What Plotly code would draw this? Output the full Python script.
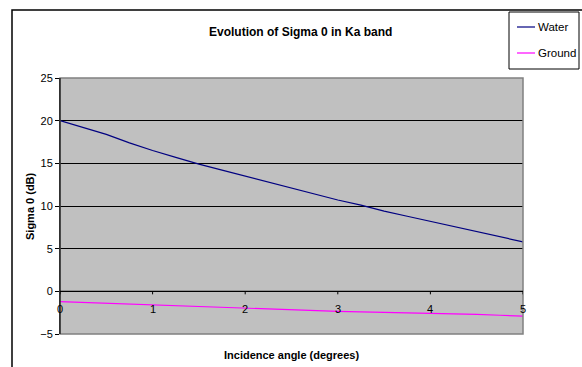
import plotly.graph_objects as go

angle = [0, 0.25, 0.5, 0.75, 1, 1.25, 1.5, 1.75, 2, 2.25, 2.5, 2.75, 3, 3.25, 3.5, 3.75, 4, 4.25, 4.5, 4.75, 5]
water = [20.0, 19.2, 18.4, 17.4, 16.5, 15.7, 14.9, 14.2, 13.5, 12.8, 12.1, 11.4, 10.7, 10.1, 9.4, 8.8, 8.2, 7.6, 7.0, 6.4, 5.8]
ground = [-1.2, -1.3, -1.4, -1.5, -1.6, -1.7, -1.8, -1.9, -2.0, -2.1, -2.15, -2.25, -2.35, -2.4, -2.45, -2.5, -2.6, -2.65, -2.7, -2.8, -2.9]
series_names = ["Water", "Ground"]
series_colors = ["#000080", "#FF00FF"]
x_ticks = [0, 1, 2, 3, 4, 5]
y_ticks = [-5, 0, 5, 10, 15, 20, 25]

W, H = 582, 367
L, R, T, B = 60, 59, 78, 33
pw, ph = W - L - R, H - T - B

def px(x):
    return (x - L) / pw

def py(y):
    return (H - B - y) / ph

FONT = "Liberation Sans, Arial, sans-serif"

fig = go.Figure()
for ys, name, col in zip([water, ground], series_names, series_colors):
    fig.add_trace(go.Scatter(x=angle, y=ys, mode="lines", name=name,
                             line=dict(color=col, width=1.2)))

shapes = [
    dict(type="rect", xref="paper", yref="paper", x0=0, x1=1, y0=0, y1=1,
         line=dict(color="#808080", width=1.5), layer="above"),
    dict(type="line", xref="paper", yref="paper", x0=0, x1=0, y0=0, y1=1,
         line=dict(color="black", width=1), layer="above"),
    # horizontal category axis line at y = 0
    dict(type="line", xref="paper", yref="y", x0=0, x1=1, y0=0, y1=0,
         line=dict(color="black", width=1.2), layer="above"),
    dict(type="rect", xref="paper", yref="paper", x0=px(12), x1=px(600),
         y0=py(380), y1=py(10), line=dict(color="black", width=1.5), layer="below"),
    # legend box
    dict(type="rect", xref="paper", yref="paper", x0=px(509), x1=px(579),
         y0=py(69), y1=py(12), line=dict(color="black", width=1),
         fillcolor="white", layer="above"),
]
annotations = [
    dict(text="<b>Evolution of Sigma 0 in Ka band</b>", xref="paper", yref="paper",
         x=px(300), y=py(32), xanchor="center", yanchor="middle",
         showarrow=False, font=dict(size=12, family=FONT)),
    dict(text="<b>Sigma 0 (dB)</b>", xref="paper", yref="paper",
         x=px(30), y=py(206), xanchor="center", yanchor="middle", textangle=-90,
         showarrow=False, font=dict(size=11, family=FONT)),
    dict(text="<b>Incidence angle (degrees)</b>", xref="paper", yref="paper",
         x=px(291), y=py(355), xanchor="center", yanchor="middle",
         showarrow=False, font=dict(size=11, family=FONT)),
]
# x tick marks and labels along the y = 0 line
for t in x_ticks:
    shapes.append(dict(type="line", xref="x", yref="y", ysizemode="pixel", yanchor=0,
                       x0=t, x1=t, y0=0, y1=-3, line=dict(color="black", width=1),
                       layer="above"))
    annotations.append(dict(text=str(t), xref="x", yref="y", x=t, y=0,
                            xanchor="center", yanchor="middle", yshift=-18,
                            showarrow=False, font=dict(size=11, family=FONT)))
for i, (name, col) in enumerate(zip(series_names, series_colors)):
    yy = 27 + 26 * i
    shapes.append(dict(type="line", xref="paper", yref="paper",
                       x0=px(517), x1=px(535), y0=py(yy), y1=py(yy),
                       line=dict(color=col, width=1.2), layer="above"))
    annotations.append(dict(text=name, xref="paper", yref="paper",
                            x=px(536), y=py(yy), xanchor="left", yanchor="middle",
                            showarrow=False, font=dict(size=11.5, family=FONT)))

fig.update_layout(
    width=W, height=H,
    margin=dict(l=L, r=R, t=T, b=B, autoexpand=False),
    paper_bgcolor="white",
    plot_bgcolor="#C0C0C0",
    font=dict(family=FONT, size=11, color="black"),
    showlegend=False,
    xaxis=dict(range=[0, 5], tickvals=x_ticks, showgrid=False, zeroline=False,
               showline=False, ticks="", showticklabels=False),
    yaxis=dict(range=[-5, 25], tickvals=y_ticks, showgrid=True, gridcolor="black",
               gridwidth=1, zeroline=True, zerolinecolor="black", zerolinewidth=1.2,
               showline=True, linecolor="black",
               linewidth=1, ticks="outside", ticklen=4, tickcolor="black",
               tickfont=dict(size=11)),
    annotations=annotations,
    shapes=shapes,
)

fig.write_html("out.html")
